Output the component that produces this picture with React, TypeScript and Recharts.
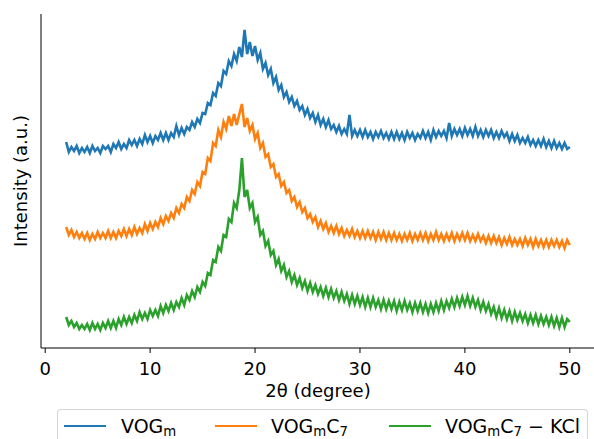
import React from 'react';
import { LineChart, Line, XAxis, YAxis, Legend, Label } from 'recharts';

// 2θ sampling grid of the scans (degrees)
const TWO_THETA_START = 2;
const TWO_THETA_STEP = 0.25;
const X_TICKS = [0, 10, 20, 30, 40, 50];
const X_LABEL = '2θ (degree)';
const Y_LABEL = 'Intensity (a.u.)';

// Intensities (a.u., stacked/offset as in the figure), one value per 0.25° from 2° to 50°
const VOG_M = [
  206, 196, 201, 197, 202, 195, 200, 196,
  201, 195, 202, 197, 200, 195, 202, 199,
  202, 196, 204, 200, 206, 199, 204, 200,
  208, 203, 208, 202, 209, 204, 213, 206,
  212, 205, 212, 208, 215, 208, 215, 208,
  215, 211, 222, 213, 220, 214, 221, 218,
  226, 221, 229, 225, 235, 234, 245, 243,
  255, 252, 265, 262, 277, 274, 287, 282,
  294, 287, 301, 291, 318, 294, 306, 292,
  302, 288, 295, 279, 285, 273, 279, 265,
  271, 258, 263, 251, 256, 246, 251, 242,
  247, 238, 242, 233, 239, 230, 235, 226,
  233, 223, 229, 221, 228, 219, 223, 216,
  222, 214, 219, 214, 233, 212, 218, 212,
  218, 211, 218, 211, 216, 209, 216, 211,
  217, 210, 215, 209, 216, 209, 216, 209,
  215, 208, 216, 210, 215, 208, 214, 210,
  217, 210, 216, 208, 218, 211, 217, 212,
  217, 210, 225, 212, 219, 213, 219, 212,
  220, 213, 219, 212, 221, 212, 218, 211,
  218, 212, 218, 210, 216, 210, 217, 211,
  215, 207, 214, 207, 213, 205, 210, 205,
  211, 203, 208, 202, 208, 202, 209, 201,
  207, 200, 207, 200, 205, 199, 205, 199,
  201,
];

const VOG_M_C7 = [
  121, 113, 118, 111, 116, 110, 115, 109,
  115, 108, 114, 109, 116, 110, 115, 110,
  117, 110, 116, 110, 117, 112, 119, 112,
  119, 113, 121, 114, 120, 115, 124, 117,
  125, 119, 126, 121, 130, 124, 132, 127,
  135, 130, 140, 135, 144, 140, 151, 147,
  158, 154, 166, 162, 176, 174, 190, 187,
  205, 202, 218, 211, 226, 219, 232, 222,
  234, 223, 234, 244, 221, 230, 217, 223,
  209, 215, 200, 205, 191, 194, 181, 184,
  171, 174, 162, 166, 155, 158, 147, 151,
  141, 146, 136, 140, 130, 134, 126, 131,
  121, 127, 119, 125, 116, 122, 115, 122,
  114, 120, 112, 118, 112, 119, 111, 117,
  110, 117, 110, 117, 110, 116, 108, 116,
  109, 116, 108, 115, 108, 115, 108, 114,
  107, 114, 108, 115, 107, 114, 108, 115,
  108, 115, 107, 114, 108, 116, 108, 114,
  107, 114, 108, 115, 107, 114, 108, 115,
  108, 115, 107, 113, 107, 114, 107, 112,
  105, 112, 105, 112, 105, 111, 103, 110,
  104, 111, 103, 109, 103, 109, 102, 110,
  103, 109, 101, 109, 102, 108, 101, 108,
  101, 108, 102, 108, 101, 107, 100, 108,
  103,
];

const VOG_M_C7_KCL = [
  31, 23, 27, 21, 25, 19, 23, 19,
  24, 18, 25, 19, 24, 18, 25, 20,
  27, 20, 27, 20, 29, 23, 31, 24,
  31, 25, 33, 27, 36, 29, 35, 29,
  38, 32, 38, 32, 42, 35, 43, 37,
  45, 38, 46, 41, 50, 43, 53, 48,
  57, 51, 61, 56, 66, 62, 75, 73,
  88, 86, 101, 97, 113, 111, 129, 126,
  145, 140, 158, 190, 151, 158, 140, 145,
  126, 131, 113, 117, 102, 107, 93, 97,
  83, 89, 77, 83, 71, 77, 66, 73,
  63, 70, 60, 67, 57, 65, 56, 63,
  54, 61, 52, 60, 51, 59, 50, 57,
  48, 56, 47, 54, 44, 53, 44, 52,
  43, 51, 41, 50, 41, 50, 41, 48,
  39, 48, 39, 47, 39, 47, 37, 46,
  38, 47, 38, 45, 36, 45, 37, 45,
  36, 44, 35, 44, 36, 45, 37, 47,
  38, 47, 40, 49, 41, 50, 42, 51,
  43, 52, 42, 50, 41, 48, 38, 46,
  37, 44, 34, 41, 31, 40, 30, 38,
  29, 37, 27, 36, 28, 35, 27, 34,
  25, 33, 25, 33, 24, 32, 24, 31,
  23, 31, 22, 30, 21, 30, 21, 29,
  26,
];

const SERIES = [
  { key: 'vogm', base: 'VOG', sub1: 'm', mid: '', sub2: '', tail: '', color: '#1f77b4' },
  { key: 'vogmc7', base: 'VOG', sub1: 'm', mid: 'C', sub2: '7', tail: '', color: '#ff7f0e' },
  { key: 'vogmc7kcl', base: 'VOG', sub1: 'm', mid: 'C', sub2: '7', tail: ' \u2212 KCl', color: '#2ca02c' },
];

const data = VOG_M.map((v, i) => ({
  x: TWO_THETA_START + i * TWO_THETA_STEP,
  vogm: v,
  vogmc7: VOG_M_C7[i],
  vogmc7kcl: VOG_M_C7_KCL[i],
}));

const FONT = '"DejaVu Sans", sans-serif';

const subStyle: React.CSSProperties = {
  fontSize: '0.7em',
  position: 'relative',
  top: '0.26em',
};

const LegendBox = () => {
  const itemPos = [
    { line: 6, text: 63 },
    { line: 157, text: 213 },
    { line: 331, text: 387 },
  ];
  return (
    <div
      style={{
        position: 'relative',
        width: 531,
        height: 30,
        border: '1px solid #d4d4d4',
        borderBottom: 'none',
        borderRadius: '4px 4px 0 0',
        background: '#fff',
        boxSizing: 'border-box',
        fontFamily: FONT,
        fontSize: 19,
        color: '#000',
      }}
    >
      {SERIES.map((s, i) => (
        <React.Fragment key={s.key}>
          <div
            style={{
              position: 'absolute',
              left: itemPos[i].line,
              top: 15,
              width: 42,
              height: 2,
              background: s.color,
            }}
          />
          <div
            style={{
              position: 'absolute',
              left: itemPos[i].text,
              top: 5,
              lineHeight: '22px',
              whiteSpace: 'nowrap',
            }}
          >
            {s.base}
            <span style={subStyle}>{s.sub1}</span>
            {s.mid}
            {s.sub2 ? <span style={subStyle}>{s.sub2}</span> : null}
            {s.tail}
          </div>
        </React.Fragment>
      ))}
    </div>
  );
};

const YLabel = (props: any) => {
  const vb = props.viewBox || { x: 0, y: 14, width: 41, height: 334 };
  const cx = vb.x + 27;
  const cy = vb.y + vb.height / 2;
  return (
    <text
      x={cx}
      y={cy}
      textAnchor="middle"
      transform={`rotate(-90, ${cx}, ${cy})`}
      fontFamily={FONT}
      fontSize={18}
      fill="#000"
    >
      {Y_LABEL}
    </text>
  );
};

const XLabel = (props: any) => {
  const vb = props.viewBox || { x: 41, y: 348, width: 554, height: 91 };
  const cx = vb.x + vb.width / 2;
  return (
    <text x={cx} y={vb.y + 49} textAnchor="middle" fontFamily={FONT} fontSize={18} fill="#000">
      {X_LABEL}
    </text>
  );
};

export default function App() {
  return (
    <div
      style={{
        position: 'absolute',
        left: 0,
        top: 0,
        width: 594,
        height: 439,
        overflow: 'hidden',
        background: '#fff',
      }}
    >
      <LineChart
        width={600}
        height={439}
        data={data}
        margin={{ top: 14, right: 5, bottom: 0, left: 0 }}
      >
        <XAxis
          dataKey="x"
          type="number"
          domain={[-0.4, 52.4]}
          ticks={X_TICKS}
          allowDataOverflow
          height={91}
          tickSize={5}
          tickMargin={9}
          axisLine={{ stroke: '#000', strokeWidth: 1 }}
          tickLine={{ stroke: '#000', strokeWidth: 1 }}
          tick={{ fill: '#000', fontSize: 18, fontFamily: FONT }}
        >
          <Label content={<XLabel />} />
        </XAxis>
        <XAxis
          xAxisId="top"
          orientation="top"
          type="number"
          domain={[-0.4, 52.4]}
          height={0}
          tick={false}
          tickLine={false}
          axisLine={{ stroke: '#000', strokeWidth: 1 }}
        />
        <YAxis
          type="number"
          domain={[0, 334]}
          allowDataOverflow
          width={41}
          tick={false}
          tickLine={false}
          axisLine={{ stroke: '#000', strokeWidth: 1 }}
        >
          <Label content={<YLabel />} />
        </YAxis>
        <Legend
          layout="horizontal"
          verticalAlign="middle"
          align="center"
          wrapperStyle={{ left: 57, top: 409, width: 531, height: 30 }}
          content={() => <LegendBox />}
        />
        <Line type="linear" dataKey="vogm" stroke="#1f77b4" strokeWidth={2.6} dot={false} isAnimationActive={false} />
        <Line type="linear" dataKey="vogmc7" stroke="#ff7f0e" strokeWidth={2.6} dot={false} isAnimationActive={false} />
        <Line type="linear" dataKey="vogmc7kcl" stroke="#2ca02c" strokeWidth={2.6} dot={false} isAnimationActive={false} />
      </LineChart>
    </div>
  );
}
